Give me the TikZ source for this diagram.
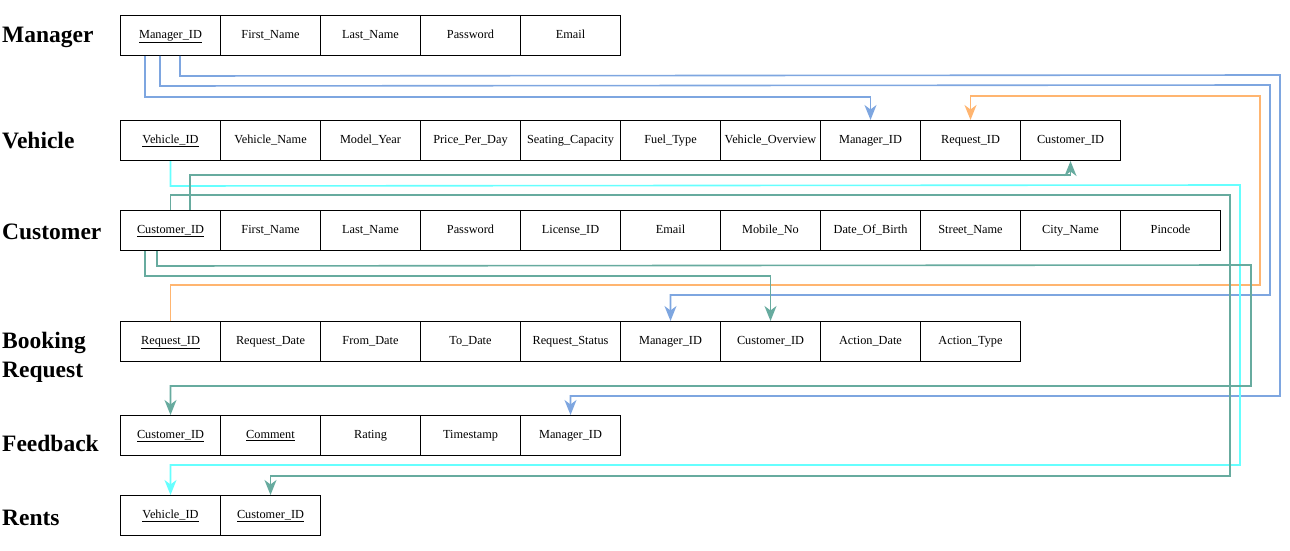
\documentclass[tikz,border=0pt]{standalone}
\usepackage{fontspec}
\setmainfont{Liberation Serif}
\usetikzlibrary{arrows.meta}
\definecolor{cblue}{HTML}{7EA6E0}
\definecolor{corange}{HTML}{FFB570}
\definecolor{ccyan}{HTML}{66FFFF}
\definecolor{cgreen}{HTML}{67AB9F}
\begin{document}
\begin{tikzpicture}[x=1pt,y=-1pt,
  cell/.style={draw=black,line width=1pt,minimum width=100pt,minimum height=40pt,inner sep=0pt,text height=8.5pt,text depth=2.5pt,anchor=north west,font=\fontsize{12.3}{14}\selectfont},
  tlabel/.style={anchor=west,inner sep=0pt,font=\fontsize{23.5}{29}\selectfont\bfseries,align=left},
  link/.style={line width=1.6pt,-{Stealth[length=15pt,width=12pt,inset=4.5pt]}}]
\useasboundingbox (0,0) rectangle (1290,551);
% labels
\node[tlabel] (lm) at (2,37) {Manager};
\node[tlabel] (lv) at (2,141) {Vehicle};
\node[tlabel] (lc) at (2,232) {Customer};
\node[tlabel] (lb) at (2,357) {Booking\\Request};
\node[tlabel] (lf) at (2,443) {Feedback};
\node[tlabel] (lr) at (2,518) {Rents};
% rows
\foreach \t [count=\i] in {{\underline{Manager\_ID}},First\_Name,Last\_Name,Password,Email}
  \node[cell] (m\i) at ({120+100*(\i-1)},15) {\t};
\foreach \t [count=\i] in {{\underline{Vehicle\_ID}},Vehicle\_Name,Model\_Year,Price\_Per\_Day,Seating\_Capacity,Fuel\_Type,Vehicle\_Overview,Manager\_ID,Request\_ID,Customer\_ID}
  \node[cell] (v\i) at ({120+100*(\i-1)},120) {\t};
\foreach \t [count=\i] in {{\underline{Customer\_ID}},First\_Name,Last\_Name,Password,License\_ID,Email,Mobile\_No,Date\_Of\_Birth,Street\_Name,City\_Name,Pincode}
  \node[cell] (c\i) at ({120+100*(\i-1)},210) {\t};
\foreach \t [count=\i] in {{\underline{Request\_ID}},Request\_Date,From\_Date,To\_Date,Request\_Status,Manager\_ID,Customer\_ID,Action\_Date,Action\_Type}
  \node[cell] (b\i) at ({120+100*(\i-1)},321) {\t};
\foreach \t [count=\i] in {{\underline{Customer\_ID}},{\underline{Comment}},Rating,Timestamp,Manager\_ID}
  \node[cell] (f\i) at ({120+100*(\i-1)},415) {\t};
\foreach \t [count=\i] in {{\underline{Vehicle\_ID}},{\underline{Customer\_ID}}}
  \node[cell] (r\i) at ({120+100*(\i-1)},495) {\t};
% blue connectors (Manager_ID)
\draw[link,cblue] ([xshift=60pt]m1.south west) -- ++(0,20) -- (1280,75) -- (1280,396) -| (f5.north);
\draw[link,cblue] ([xshift=40pt]m1.south west) -- ++(0,30) -- (1270,85) -- (1270,295) -| (b6.north);
\draw[link,cblue] ([xshift=25pt]m1.south west) -- ++(0,41) -| (v8.north);
% orange (Request_ID)
\draw[link,corange] (b1.north) -- ++(0,-36) -- (1260,285) -- (1260,96) -| (v9.north);
% cyan (Vehicle_ID)
\draw[link,ccyan] (v1.south) -- ++(0,25) -- (1240,185) -- (1240,465) -| (r1.north);
% green (Customer_ID)
\draw[link,cgreen] ([xshift=70pt]c1.north west) -- ++(0,-35) -| (v10.south);
\draw[link,cgreen] (c1.north) -- ++(0,-15) -- (1230,195) -- (1230,476) -| (r2.north);
\draw[link,cgreen] ([xshift=25pt]c1.south west) -- ++(0,25) -| (b7.north);
\draw[link,cgreen] ([xshift=37pt]c1.south west) -- ++(0,15) -- (1251,265) -- (1251,386) -| (f1.north);
\end{tikzpicture}
\end{document}
